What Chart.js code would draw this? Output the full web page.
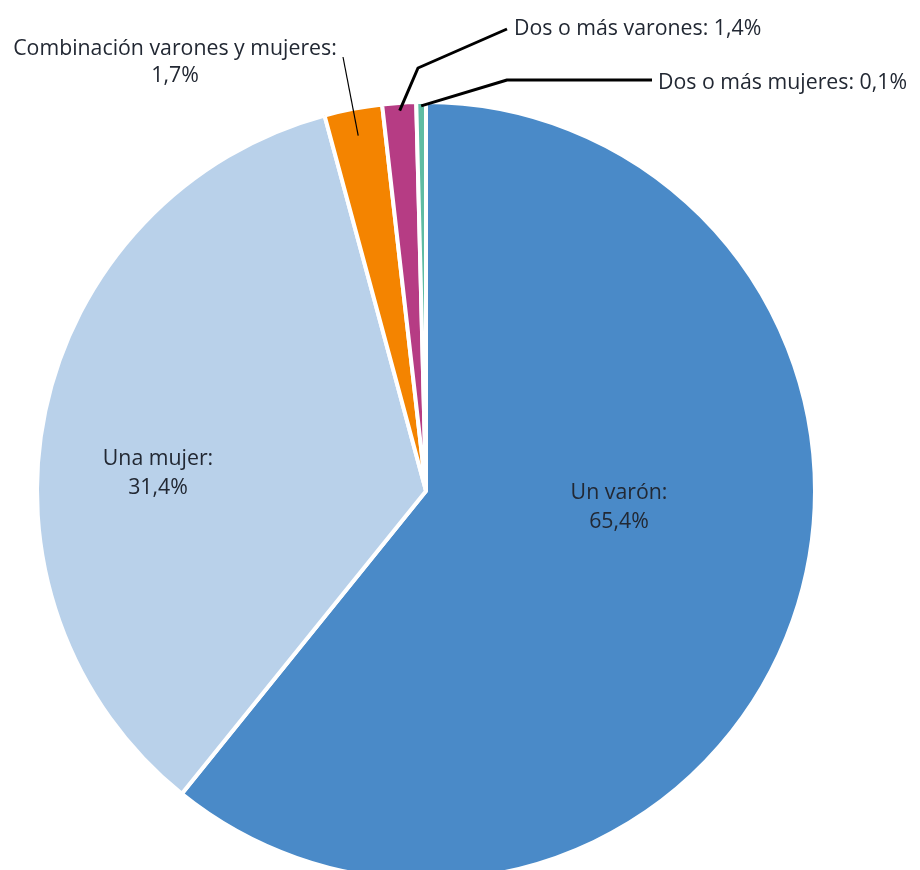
<!DOCTYPE html>
<html>
<head>
<meta charset="utf-8">
<script src="https://cdn.jsdelivr.net/npm/chart.js@4/dist/chart.umd.min.js"></script>
<style>
  html, body { margin: 0; padding: 0; background: #ffffff; overflow: hidden; }
  #wrap { width: 920px; height: 870px; overflow: hidden; position: relative; }
  canvas { display: block; }
</style>
</head>
<body>
<div id="wrap"><canvas id="c" width="920" height="900"></canvas></div>
<script>
// ---- data ----
const categories = ['Un varón', 'Una mujer', 'Combinación varones y mujeres', 'Dos o más varones', 'Dos o más mujeres'];
// slice sizes as drawn in the reference (share of the circle, %)
const shares = [60.8, 35.0, 2.4, 1.4, 0.4];
// percentages as printed in the labels
const printedValues = ['65,4%', '31,4%', '1,7%', '1,4%', '0,1%'];
const colors = ['#4a8ac8', '#b9d1ea', '#f48400', '#b63c84', '#5fbca3'];

// ---- label layout (positions only) ----
const labelLayout = [
  { lines: [categories[0] + ':', printedValues[0]], x: 619, y: 493, lineGap: 29, align: 'center' },
  { lines: [categories[1] + ':', printedValues[1]], x: 158, y: 459, lineGap: 29, align: 'center' },
  { lines: [categories[2] + ':', printedValues[2]], x: 175, y: 49, lineGap: 27, align: 'center',
    leader: { width: 1.2, anchorR: 0.93, points: [[343, 57]] } },
  { lines: [categories[3] + ': ' + printedValues[3]], x: 514, y: 29, align: 'left',
    leader: { width: 3, anchorR: 0.98, points: [[507, 29], [418, 68]] } },
  { lines: [categories[4] + ': ' + printedValues[4]], x: 658, y: 83, align: 'left',
    leader: { width: 3, anchorR: 0.99, points: [[652, 80], [507, 80]] } }
];

const labelPlugin = {
  id: 'pieLabels',
  afterDatasetsDraw(chart) {
    const ctx = chart.ctx;
    const meta = chart.getDatasetMeta(0);
    ctx.save();
    labelLayout.forEach((lab, i) => {
      const arc = meta.data[i];
      if (lab.leader) {
        const p = arc.getProps(['x', 'y', 'startAngle', 'endAngle', 'outerRadius'], true);
        const mid = (p.startAngle + p.endAngle) / 2;
        const r = p.outerRadius * lab.leader.anchorR;
        const ax = p.x + Math.cos(mid) * r;
        const ay = p.y + Math.sin(mid) * r;
        ctx.beginPath();
        ctx.strokeStyle = '#000000';
        ctx.lineWidth = lab.leader.width;
        ctx.lineJoin = 'round';
        const pts = lab.leader.points;
        ctx.moveTo(pts[0][0], pts[0][1]);
        for (let k = 1; k < pts.length; k++) ctx.lineTo(pts[k][0], pts[k][1]);
        ctx.lineTo(ax, ay);
        ctx.stroke();
      }
      ctx.fillStyle = '#222833';
      ctx.font = '21.3px "Open Sans", sans-serif';
      ctx.textAlign = lab.align;
      ctx.textBaseline = 'middle';
      lab.lines.forEach((t, k) => {
        ctx.fillText(t, lab.x, lab.y + k * (lab.lineGap || 0));
      });
    });
    ctx.restore();
  }
};

new Chart(document.getElementById('c'), {
  type: 'pie',
  data: {
    labels: categories,
    datasets: [{
      data: shares,
      backgroundColor: colors,
      borderColor: '#ffffff',
      borderWidth: 4,
      hoverOffset: 0
    }]
  },
  options: {
    responsive: false,
    animation: false,
    radius: 389,
    layout: { padding: { top: 103, left: 38, right: 106, bottom: 21 } },
    plugins: {
      legend: { display: false },
      tooltip: { enabled: false }
    }
  },
  plugins: [labelPlugin]
});
</script>
</body>
</html>
